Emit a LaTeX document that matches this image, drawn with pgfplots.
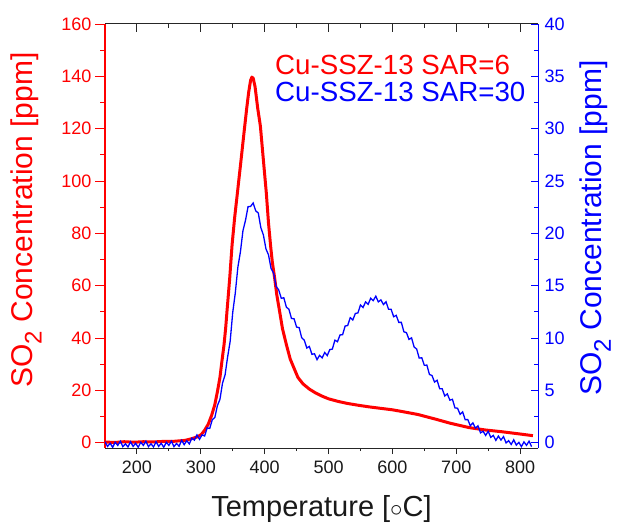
\documentclass[border=0pt]{standalone}
\usepackage{pgfplots}
\pgfplotsset{compat=1.18}
\usepackage{fontspec}
\setmainfont{Liberation Sans}

\pgfplotsset{
  common/.style={
    scale only axis, width=433pt, height=424pt,
    at={(105pt,76pt)}, anchor=south west,
    xmin=150, xmax=828, clip mode=individual,
    /pgf/number format/assume math mode=true,
    tick label style={font=\fontsize{18}{18}\selectfont},
    every tick/.append style={line width=0.8pt},
  }
}

\begin{document}
\begin{tikzpicture}
\useasboundingbox (0,0) rectangle (617pt,524pt);

% ---- left axis, red series ----
\begin{axis}[common,
  ymin=-2, ymax=160,
  axis y line*=left, axis x line=none,
  ytick={0,20,...,160}, minor y tick num=1,
  tick align=outside, major tick length=10pt, minor tick length=5pt,
  y axis line style={-, red, line width=1.2pt},
  tick style={red, line width=0.9pt},
  yticklabel style={red},
]
\addplot[red, line width=3pt, no marks, line join=round] coordinates {
(150,0.3) (165,0.1) (180,0.4) (195,0.2) (210,0.4) (225,0.3) (240,0.5) (255,0.5) (265,0.7)
(275,0.9) (285,1.5) (295,2.3) (301,3.2) (306,4.8) (311.5,7) (317,10.5) (322,14.6)
(326,19.5) (330,25) (333,31) (336.4,37.5) (339,44) (341,50.2) (343.3,57) (345.3,63)
(349,75.7) (353,86) (357.3,95.4) (363,108) (368.7,120.8) (372,128) (375,134)
(378,138.5) (380,139.7) (382,139.3) (385,136) (389,128) (393.3,121) (398,108)
(402.6,95.4) (406,84) (409.4,75) (412,69) (415.6,63) (419,56.5) (423.4,50.2)
(428,43.5) (434,37.5) (440,32) (445.8,28.6) (452,25) (460,22.5) (470,20.5)
(480,19) (490,17.8) (500,16.8) (515,15.8) (530,15) (550,14.2) (564,13.7)
(580,13.2) (600,12.6) (616,11.9) (640,10.8) (668,9.0) (690,7.5) (720,5.8)
(745,4.9) (772,4.2) (795,3.5) (814,2.9) (820,2.7)
};
\node[rotate=90, red, inner sep=0pt, font=\fontsize{30}{30}\selectfont] at (axis description cs:-0.182,0.538)
  {SO\raisebox{-0.3em}{\fontsize{24}{24}\selectfont 2} Concentration [ppm]};
\node[anchor=base west, inner sep=0pt, red, font=\fontsize{27.7}{27.7}\selectfont]
  at (axis description cs:0.3926,0.88) {Cu-SSZ-13 SAR=6};
\node[anchor=base west, inner sep=0pt, blue, font=\fontsize{27.7}{27.7}\selectfont]
  at (axis description cs:0.3926,0.818) {Cu-SSZ-13 SAR=30};
\end{axis}

% ---- right axis, blue series ----
\begin{axis}[common,
  ymin=-0.5, ymax=40,
  axis y line*=right, axis x line=none,
  ytick={0,5,...,40}, minor y tick num=1,
  tick align=inside, major tick length=7pt, minor tick length=4pt,
  y axis line style={-, blue, line width=1pt},
  tick style={blue, line width=0.9pt},
  yticklabel style={blue, xshift=3pt},
]
\addplot[blue, line width=1.3pt, no marks] table {
x y
150 0.10
154 -0.35
158 -0.05
162 -0.43
166 0.05
170 -0.25
174 0.15
178 -0.37
182 -0.10
186 -0.40
190 0.10
194 -0.35
198 -0.05
202 -0.43
206 0.05
210 -0.25
214 0.15
218 -0.37
222 -0.10
226 -0.40
230 0.10
234 -0.35
238 -0.05
242 -0.43
246 0.05
250 -0.25
254 0.15
258 -0.37
262 -0.07
266 -0.33
270 0.23
274 -0.18
278 0.20
282 -0.11
286 0.45
290 0.25
294 0.75
298 0.33
302 0.75
306 0.65
310 1.42
314 1.37
318 2.20
322 2.42
326 3.55
330 4.15
334 5.70
338 6.48
342 8.20
346 9.70
350 12.45
354 14.30
358 16.75
362 18.22
366 20.25
370 21.25
374 22.55
378 22.58
382 22.90
386 22.15
390 21.95
394 20.55
398 19.85
402 18.52
406 17.95
410 16.65
414 16.20
418 14.93
422 14.60
426 13.80
430 13.85
434 12.95
438 12.75
442 11.87
446 11.85
450 11.05
454 11.00
458 10.03
462 9.80
466 9.05
470 9.20
474 8.45
478 8.50
482 7.94
486 8.35
490 8.10
494 8.62
498 8.33
502 8.90
506 8.95
510 9.80
514 9.65
518 10.30
522 10.32
526 11.15
530 11.20
534 11.95
538 11.73
542 12.35
546 12.40
550 13.15
554 12.92
558 13.45
562 13.22
566 13.80
570 13.58
574 14.00
578 13.46
582 13.65
586 13.20
590 13.47
594 12.75
598 12.75
602 12.04
606 12.17
610 11.50
614 11.50
618 10.60
622 10.52
626 9.87
630 10.02
634 9.15
638 8.95
642 8.09
646 8.12
650 7.40
654 7.42
658 6.53
662 6.42
666 5.80
670 5.97
674 5.17
678 5.15
682 4.47
686 4.67
690 4.07
694 4.15
698 3.33
702 3.30
706 2.72
710 2.95
714 2.20
718 2.22
722 1.62
726 1.90
730 1.40
734 1.62
738 0.95
742 1.10
746 0.70
750 1.10
754 0.52
758 0.70
762 0.23
766 0.64
770 0.26
774 0.59
778 -0.01
782 0.20
786 -0.16
790 0.28
794 -0.22
798 0.04
802 -0.37
806 0.08
810 -0.24
814 0.15
818 -0.37
};
\node[rotate=90, blue, inner sep=0pt, font=\fontsize{30}{30}\selectfont] at (axis description cs:1.133,0.519)
  {SO\raisebox{-0.3em}{\fontsize{24}{24}\selectfont 2} Concentration [ppm]};
\end{axis}

% ---- bottom x axis ----
\begin{axis}[common,
  ymin=0, ymax=1,
  axis x line*=bottom, axis y line=none,
  xtick={200,300,...,800}, minor x tick num=1,
  tick align=outside, major tick length=6pt, minor tick length=3pt,
  x axis line style={-, black!85, line width=1pt},
  tick style={black!85, line width=0.9pt},
  xticklabel style={black!90, yshift=-3pt},
]
\node[anchor=base, inner sep=0pt, black!90, font=\fontsize{29}{29}\selectfont] at (axis description cs:0.5,-0.1604)
  {Temperature [$\circ$C]};
\end{axis}

% ---- top x axis ----
\begin{axis}[common,
  ymin=0, ymax=1,
  axis x line*=top, axis y line=none,
  xtick={200,300,...,800}, minor x tick num=1,
  tick align=inside, major tick length=8pt, minor tick length=4pt,
  x axis line style={-, black!85, line width=1pt},
  tick style={black!85, line width=0.9pt},
  xticklabels={},
]
\end{axis}
\end{tikzpicture}
\end{document}
